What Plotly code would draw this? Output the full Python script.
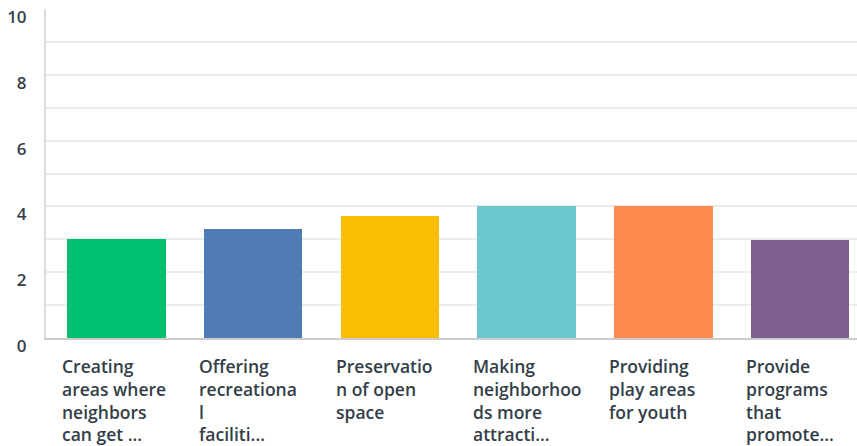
import plotly.graph_objects as go

# Survey priorities and their average scores
categories = [
    "Creating areas where neighbors can get ...",
    "Offering recreational facilities...",
    "Preservation of open space",
    "Making neighborhoods more attractive...",
    "Providing play areas for youth",
    "Provide programs that promote...",
]
# Wrapped axis labels as they are printed under each bar
label_lines = [
    ["Creating", "areas where", "neighbors", "can get ..."],
    ["Offering", "recreationa", "l", "faciliti..."],
    ["Preservatio", "n of open", "space"],
    ["Making", "neighborhoo", "ds more", "attracti..."],
    ["Providing", "play areas", "for youth"],
    ["Provide", "programs", "that", "promote..."],
]
values = [3.00, 3.32, 3.71, 4.00, 4.00, 2.98]
colors = ["#00bf6f", "#507cb6", "#f9be00", "#6bc8cd", "#ff8b4f", "#7d5e90"]
y_ticks = [0, 2, 4, 6, 8, 10]

text_color = "#333e48"
font_family = "Open Sans"

x_idx = list(range(len(categories)))

fig = go.Figure(
    go.Bar(
        x=x_idx,
        y=values,
        marker=dict(color=colors, line=dict(width=0)),
        width=0.72,
        hovertext=categories,
        hoverinfo="text+y",
    )
)

# Left-aligned wrapped labels below each bar
for i, lines in enumerate(label_lines):
    fig.add_annotation(
        x=i,
        xref="x",
        y=0,
        yref="paper",
        text="<br>".join(lines),
        showarrow=False,
        xanchor="left",
        yanchor="top",
        align="left",
        xshift=-56,
        yshift=-14,
        font=dict(family=font_family, size=17.5, color=text_color, weight=600),
    )

fig.update_layout(
    width=857,
    height=446,
    margin=dict(l=46, r=0, t=9, b=108),
    paper_bgcolor="white",
    plot_bgcolor="white",
    showlegend=False,
    bargap=0,
    xaxis=dict(
        range=[-0.515, 5.415],
        showticklabels=False,
        showgrid=False,
        zeroline=False,
        showline=True,
        linecolor="#cccccc",
        linewidth=2,
        ticks="",
        fixedrange=True,
    ),
    yaxis=dict(
        range=[0, 10],
        tickvals=y_ticks,
        ticktext=[str(v) for v in y_ticks],
        showgrid=False,
        zeroline=False,
        showline=True,
        linecolor="#dcdcdc",
        linewidth=2,
        ticks="",
        ticklabelstandoff=14,
        ticklabelshift=8,
        tickfont=dict(family=font_family, size=17, color=text_color, weight=600),
        minor=dict(
            tickvals=list(range(1, 10)),
            showgrid=True,
            gridcolor="#ececec",
            gridwidth=2,
            ticks="",
        ),
        fixedrange=True,
    ),
)

fig.write_html("out.html")
